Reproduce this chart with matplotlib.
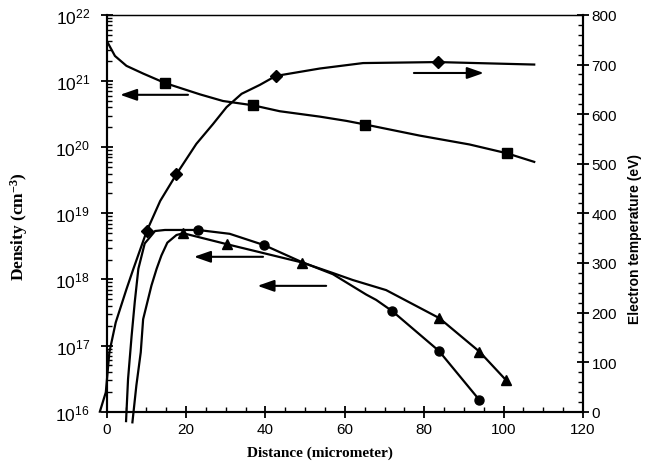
import numpy as np
import matplotlib
matplotlib.use("Agg")
import matplotlib.pyplot as plt
from matplotlib.ticker import MultipleLocator, FuncFormatter, LogLocator, NullFormatter

# --- densité, courbe à carrés (axe gauche)
x_sq = [0, 2.1, 5.0, 9.2, 14.8, 23.5, 29.3, 36.9, 43.6, 53.7, 60.4, 65.2, 78.8, 91.4, 100.8, 107.7]
n_sq = [4.1e21, 2.4e21, 1.7e21, 1.3e21, 9.3e20, 6.3e20, 5.0e20, 4.3e20, 3.5e20,
        2.9e20, 2.5e20, 2.2e20, 1.5e20, 1.1e20, 8.1e19, 6.0e19]
mk_sq = [4, 7, 11, 14]

# --- densité, courbe à cercles
x_ci = [4.9, 5.4, 6.3, 7.1, 8.0, 9.6, 12.2, 14.7, 23.0, 31.0, 39.7, 49.0,
        57.0, 65.4, 67.9, 72.0, 83.7, 93.9]
n_ci = [7.2e15, 3.1e16, 1.4e17, 4.6e17, 1.45e18, 3.5e18, 5.4e18, 5.6e18,
        5.6e18, 4.9e18, 3.3e18, 1.85e18, 1.2e18, 5.9e17, 4.9e17, 3.3e17,
        8.3e16, 1.5e16]
mk_ci = [8, 10, 15, 16, 17]

# --- densité, courbe à triangles
x_tr = [6.5, 7.5, 8.6, 9.2, 11.3, 12.6, 13.8, 15.3, 17.6, 19.3, 30.4, 49.3,
        57.0, 62.0, 70.4, 83.8, 93.9, 100.6]
n_tr = [6.9e15, 2.5e16, 7.9e16, 2.5e17, 8.1e17, 1.45e18, 2.3e18, 3.6e18,
        4.7e18, 5.0e18, 3.4e18, 1.8e18, 1.25e18, 9.8e17, 6.9e17, 2.6e17,
        8.1e16, 3.0e16]
mk_tr = [9, 10, 11, 15, 16, 17]

# --- température électronique, courbe à losanges (axe droit)
x_te = [-1.7, -0.2, 0.7, 2.3, 5.0, 6.7, 10.1, 13.5, 17.6, 22.6, 26.8, 30.2,
        34.0, 38.6, 42.6, 53.7, 64.6, 83.4, 107.7]
t_te = [0, 39, 120, 180, 247, 287, 364, 425, 479, 540, 580, 614, 641, 659,
        677, 692, 703, 705, 700]
mk_te = [6, 8, 14, 17]

# flèches (x queue, x pointe, y) sur l'axe gauche / droit
arrows_left = [(20.5, 3.4, 6.2e20), (39.4, 22.0, 2.2e18), (55.3, 38.0, 8.0e17)]
arrows_right = [(77.4, 95.0, 683)]

SANS = "Liberation Sans"
SERIF = "Liberation Serif"

fig = plt.figure(figsize=(6.5, 4.64), dpi=100)
ax = fig.add_axes([0.164, 0.1106, 0.733, 0.855])
ax2 = ax.twinx()

lw = 1.6
ax.plot(x_sq, n_sq, color="black", lw=lw, marker="s", ms=6.5, markevery=mk_sq)
ax.plot(x_ci, n_ci, color="black", lw=lw, marker="o", ms=6.5, markevery=mk_ci, clip_on=False)
ax.plot(x_tr, n_tr, color="black", lw=lw, marker="^", ms=7.5, markevery=mk_tr, clip_on=False)
ax2.plot(x_te, t_te, color="black", lw=lw, marker="D", ms=6, markevery=mk_te, clip_on=False)

arrow_kw = dict(arrowstyle="-|>,head_length=1.0,head_width=0.35", color="black",
                lw=1.5, shrinkA=0, shrinkB=0)
for xt, xh, y in arrows_left:
    ax.annotate("", xy=(xh, y), xytext=(xt, y), arrowprops=arrow_kw)
for xt, xh, y in arrows_right:
    ax2.annotate("", xy=(xh, y), xytext=(xt, y), arrowprops=arrow_kw)

# axes
ax.set_xlim(0, 120)
ax.set_yscale("log")
ax.set_ylim(1e16, 1e22)
ax2.set_ylim(0, 800)

ax.xaxis.set_major_locator(MultipleLocator(20))
ax.xaxis.set_minor_locator(MultipleLocator(5))
ax.yaxis.set_major_locator(LogLocator(base=10, numticks=10))
ax.yaxis.set_minor_locator(LogLocator(base=10, subs=np.arange(2, 10), numticks=20))
ax.yaxis.set_minor_formatter(NullFormatter())
ax.yaxis.set_major_formatter(FuncFormatter(lambda v, p: r"$\mathregular{10^{%d}}$" % round(np.log10(v))))
ax2.yaxis.set_major_locator(MultipleLocator(100))
ax2.yaxis.set_minor_locator(MultipleLocator(20))

ax.tick_params(axis="both", which="major", direction="inout", length=8, width=1.3,
               labelsize=11, top=False)
ax.tick_params(axis="y", which="major", labelsize=12.5, pad=8)
ax.tick_params(axis="both", which="minor", direction="in", length=3.5, width=1.0, top=False)
ax2.tick_params(axis="y", which="major", direction="inout", length=8, width=1.3, labelsize=11, pad=2)
ax2.tick_params(axis="y", which="minor", direction="in", length=3.5, width=1.0)
for a in (ax, ax2):
    for lab in a.get_xticklabels() + a.get_yticklabels():
        lab.set_fontfamily(SANS)
    for side in ("left", "bottom", "right"):
        a.spines[side].set_linewidth(1.5)
    a.spines["top"].set_linewidth(0.9)

ax.set_xlabel("Distance (micrometer)", fontfamily=SERIF, fontweight="bold", fontsize=11)
ax.set_ylabel(r"Density (cm$\mathregular{^{-3}}$)", fontfamily=SERIF, fontweight="bold",
              fontsize=12.5)
ax2.set_ylabel("Electron temperature (eV)", fontfamily=SANS, fontweight="bold", fontsize=10)
ax.xaxis.set_label_coords(0.448, -0.085)
ax.yaxis.set_label_coords(-0.16, 0.47)
ax2.yaxis.set_label_coords(1.094, 0.437)

fig.savefig("out.png", dpi=100)
